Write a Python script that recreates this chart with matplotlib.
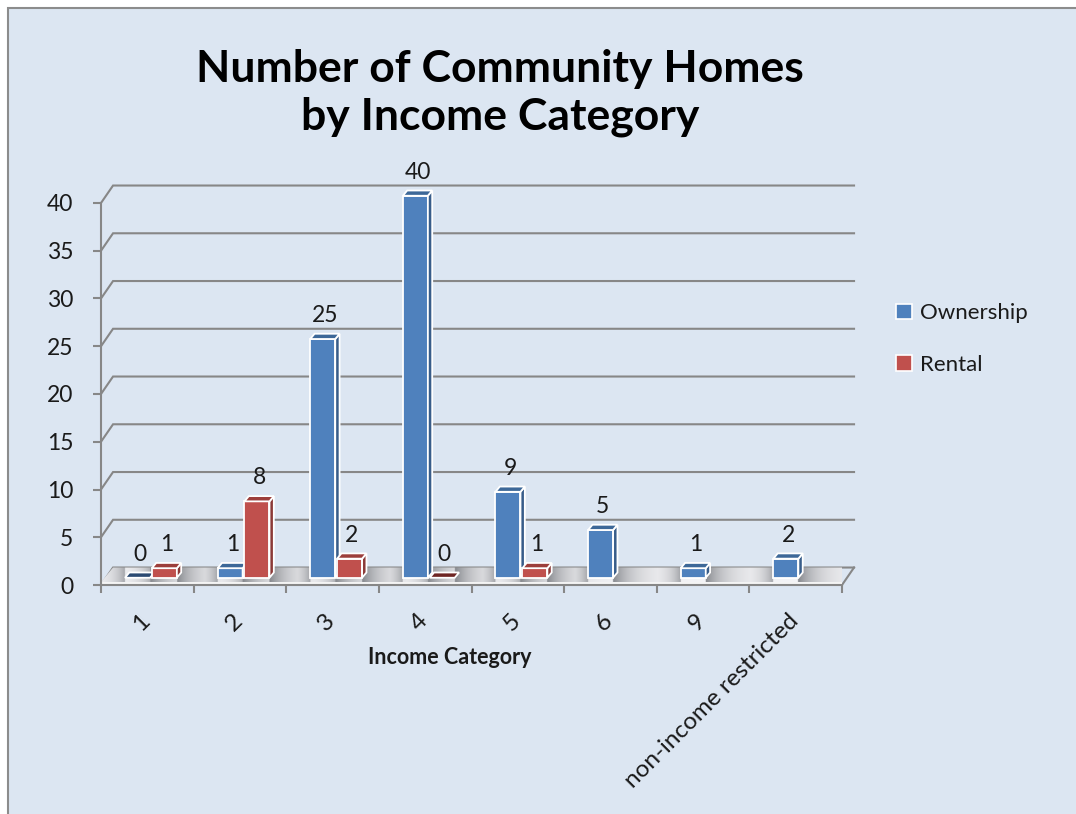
import numpy as np
import matplotlib
matplotlib.use("Agg")
import matplotlib.pyplot as plt
from matplotlib.patches import Polygon, Rectangle

plt.rcParams['font.family'] = ['Lato', 'DejaVu Sans']

# ---- data ----
categories = ["1", "2", "3", "4", "5", "6", "9", "non-income restricted"]
ownership = [0, 1, 25, 40, 9, 5, 1, 2]
rental = [1, 8, 2, 0, 1, None, None, None]
series_names = ["Ownership", "Rental"]
yticks = [0, 5, 10, 15, 20, 25, 30, 35, 40]

title = "Number of Community Homes\nby Income Category"
xlabel = "Income Category"

# ---- style ----
BG = "#dce6f2"
GRID = "#878787"
TXT = "#1a1a1a"
FACES = {
    "Ownership": dict(front="#4f81bd", side="#385d8a", top="#3d6898", flat="#2b4a72"),
    "Rental": dict(front="#c0504d", side="#8b3a38", top="#9c3e3b", flat="#6e2523"),
}
DX, DY = 0.13, 1.83          # depth of the back wall (data units)
SLAB = 0.3                   # floor slab thickness
F0, FD = 0.30, 0.36          # bar depth start / depth extent (fraction of floor depth)
BAR_W = 0.27
OFFSETS = [-0.145, 0.145]

W, H = 1076, 814
fig = plt.figure(figsize=(W / 100, H / 100), dpi=100, facecolor="white")

# chart area background with border on top/left
fig.patches.append(Rectangle((8 / W, -0.05), 1.2, 1 - 8 / H + 0.05,
                             transform=fig.transFigure, facecolor=BG,
                             edgecolor="#8c8c8c", linewidth=1.5, zorder=-10))

px_per_unit = 382 / 40
ymax = 45
ax = fig.add_axes([101 / W, (H - 585) / H, 741 / W, ymax * px_per_unit / H])
ax.set_facecolor("none")
x0, x1 = -0.5, len(categories) - 0.5

# back wall gridlines with the diagonal side-wall segment
for v in yticks:
    ax.plot([x0, x0 + DX, x1 + DX], [v, v + DY, v + DY], color=GRID, lw=1.5,
            clip_on=False, zorder=1, solid_joinstyle="miter")
ax.plot([x1, x1 + DX], [0, DY], color=GRID, lw=1.5, clip_on=False, zorder=1)

# floor: gradient top surface with soft shadows beside bars
xs = np.linspace(x0, x1 + DX, 1600)
dark = np.zeros_like(xs)
for si, vals in enumerate([ownership, rental]):
    for i, v in enumerate(vals):
        if v is None:
            continue
        left = i + OFFSETS[si] - BAR_W / 2 + F0 * DX
        right = i + OFFSETS[si] + BAR_W / 2 + F0 * DX
        r = np.where(xs > right, 0.95 * np.exp(-np.clip(xs - right, 0, None) / 0.22), 0)
        l = np.where(xs < left, 0.7 * np.exp(-np.clip(left - xs, 0, None) / 0.13), 0)
        dark = np.maximum(dark, np.maximum(r, l))
light = np.array([0.96, 0.96, 0.97])
shade = np.array([0.50, 0.51, 0.53])
img = light[None, :] * (1 - dark[:, None]) + shade[None, :] * dark[:, None]
img = np.repeat(img[None, :, :], 2, axis=0)
floor_poly = Polygon([(x0, SLAB), (x1, SLAB), (x1 + DX, DY), (x0 + DX, DY)],
                     closed=True, facecolor="none", edgecolor="none")
ax.add_patch(floor_poly)
floor_poly.set_clip_on(False)
im = ax.imshow(img, extent=(x0, x1 + DX, SLAB, DY), aspect="auto",
               origin="lower", zorder=1.5, interpolation="bilinear")
im.set_clip_path(floor_poly)
ax.add_patch(Polygon([(x0, 0), (x1, 0), (x1, SLAB), (x0, SLAB)], closed=True,
                     facecolor="#f4f4f4", edgecolor="none", zorder=1.6,
                     clip_on=False))
ax.set_xlim(x0, x1)
ax.set_ylim(0, ymax)


def box(xc, value, faces):
    base = SLAB + F0 * (DY - SLAB)
    ddx, ddy = FD * DX, FD * (DY - SLAB)
    xl, xr = xc - BAR_W / 2 + F0 * DX, xc + BAR_W / 2 + F0 * DX
    top = base + value
    ec = dict(edgecolor="white", linewidth=1.3, joinstyle="miter",
              clip_on=False, zorder=3)
    if value > 0:
        ax.add_patch(Polygon([(xl, base), (xr, base), (xr, top), (xl, top)],
                             facecolor=faces["front"], **ec))
        ax.add_patch(Polygon([(xr, base), (xr + ddx, base + ddy),
                              (xr + ddx, top + ddy), (xr, top)],
                             facecolor=faces["side"], **ec))
    topc = faces["top"] if value > 0 else faces["flat"]
    ax.add_patch(Polygon([(xl, top), (xr, top), (xr + ddx, top + ddy),
                          (xl + ddx, top + ddy)], facecolor=topc, **ec))
    ax.annotate(f"{value}", ((xl + xr) / 2 + ddx / 2, top + ddy),
                xytext=(0, 8.5), textcoords="offset points", ha="center",
                va="baseline", fontsize=16.5, color=TXT, zorder=4,
                annotation_clip=False)


for i in range(len(categories)):
    for si, vals in enumerate([ownership, rental]):
        v = vals[i]
        if v is None:
            continue
        box(i + OFFSETS[si], v, FACES[series_names[si]])

# axes: front left spine, front floor edge, ticks
for s in ["top", "right"]:
    ax.spines[s].set_visible(False)
for s in ["left", "bottom"]:
    ax.spines[s].set_color(GRID)
    ax.spines[s].set_linewidth(1.5)
    ax.spines[s].set_zorder(2)
ax.spines["left"].set_bounds(0, 40)
ax.set_yticks(yticks)
ax.set_yticklabels([str(t) for t in yticks])
ax.tick_params(axis="y", length=6, width=1.5, color=GRID, pad=14,
               labelsize=16.5, labelcolor=TXT)
ax.set_xticks(np.arange(len(categories) + 1) - 0.5)
ax.set_xticklabels([])
ax.tick_params(axis="x", which="major", length=6, width=1.5, color=GRID)
ax.set_xticks(np.arange(len(categories)) + 0.07, minor=True)
ax.set_xticklabels(categories, minor=True, rotation=45, ha="right",
                   va="top", fontsize=17.5, color=TXT)
ax.tick_params(axis="x", which="minor", length=0, pad=18)

fig.text(450 / W, 1 - 658 / H, xlabel, ha="center", va="center",
         fontsize=15.5, fontweight="bold", color=TXT)
fig.text(500 / W, 1 - 93 / H, title, ha="center", va="center",
         fontsize=32, fontweight="bold", color="black", linespacing=1.22)

handles = [Rectangle((0, 0), 1, 1, facecolor=FACES[n]["front"],
                     edgecolor="white", linewidth=1.2) for n in series_names]
fig.legend(handles, series_names, loc="center left",
           bbox_to_anchor=(876 / W, 1 - 339 / H), frameon=False,
           fontsize=16, handlelength=0.7, handleheight=0.7,
           handletextpad=0.4, labelspacing=1.4, labelcolor=TXT)

fig.savefig("out.png", dpi=100, facecolor="white")
